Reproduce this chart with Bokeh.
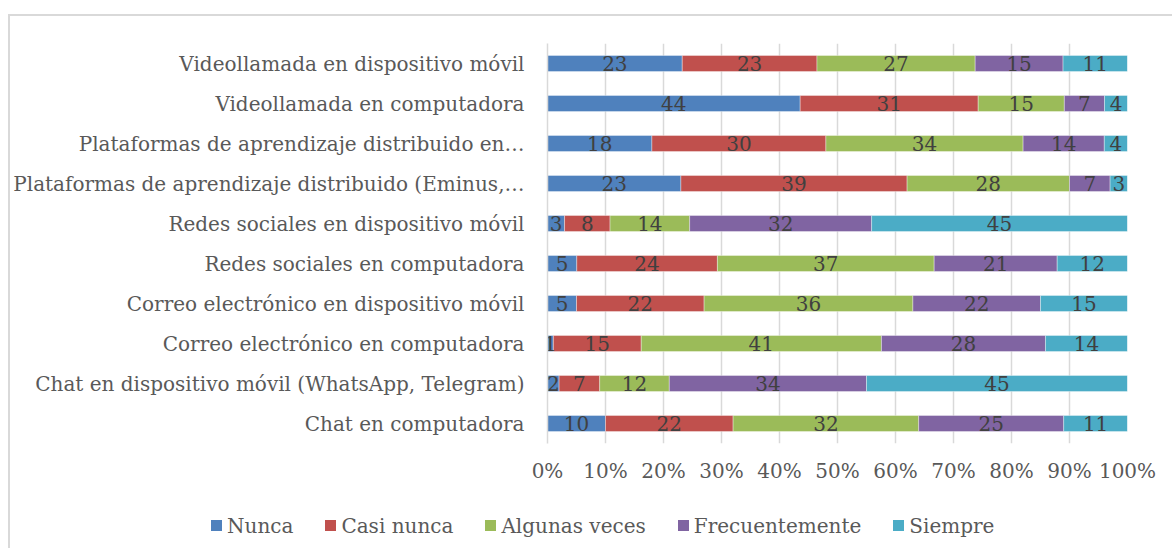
from bokeh.plotting import figure
from bokeh.layouts import column
from bokeh.models import ColumnDataSource, NumeralTickFormatter, FixedTicker, Range1d, FactorRange, Div
from bokeh.core.properties import value
from bokeh.embed import file_html
from bokeh.resources import INLINE

# Categories, top to bottom as shown in the chart
categories = [
    "Videollamada en dispositivo móvil",
    "Videollamada en computadora",
    "Plataformas de aprendizaje distribuido en…",
    "Plataformas de aprendizaje distribuido (Eminus,…",
    "Redes sociales en dispositivo móvil",
    "Redes sociales en computadora",
    "Correo electrónico en dispositivo móvil",
    "Correo electrónico en computadora",
    "Chat en dispositivo móvil (WhatsApp, Telegram)",
    "Chat en computadora",
]
series_names = ["Nunca", "Casi nunca", "Algunas veces", "Frecuentemente", "Siempre"]
nunca = [23, 44, 18, 23, 3, 5, 5, 1, 2, 10]
casi_nunca = [23, 31, 30, 39, 8, 24, 22, 15, 7, 22]
algunas_veces = [27, 15, 34, 28, 14, 37, 36, 41, 12, 32]
frecuentemente = [15, 7, 14, 7, 32, 21, 22, 28, 34, 25]
siempre = [11, 4, 4, 3, 45, 12, 15, 14, 45, 11]
colors = ["#4F81BD", "#C0504D", "#9BBB59", "#8064A2", "#4BACC6"]
x_ticks = [0, 0.1, 0.2, 0.3, 0.4, 0.5, 0.6, 0.7, 0.8, 0.9, 1.0]

FONT = "DejaVu Serif"
FS = "20px"
series = [nunca, casi_nunca, algunas_veces, frecuentemente, siempre]
totals = [sum(vals) for vals in zip(*series)]

data = {"cat": categories}
for name, vals in zip(series_names, series):
    data[name] = [v / t for v, t in zip(vals, totals)]
source = ColumnDataSource(data)

# label positions (segment centers)
lx, ly, lt = [], [], []
for i, cat in enumerate(categories):
    cum = 0.0
    for name, vals in zip(series_names, series):
        frac = vals[i] / totals[i]
        lx.append(cum + frac / 2)
        ly.append(cat)
        lt.append(str(vals[i]))
        cum += frac
label_src = ColumnDataSource(dict(x=lx, y=ly, t=lt))

p = figure(
    width=1162, height=472,
    y_range=FactorRange(factors=list(reversed(categories))),
    x_range=Range1d(0, 1),
    output_backend="svg", toolbar_location=None,
    min_border_left=535, min_border_right=45, min_border_top=27, min_border_bottom=45,
)
p.outline_line_color = None
p.background_fill_color = "white"
p.border_fill_color = "white"

p.hbar_stack(series_names, y="cat", height=0.4, color=colors, source=source,
             line_color="white", line_width=0.6, line_alpha=0.6)

p.text(x="x", y="y", text="t", source=label_src, text_align="center", text_baseline="middle",
       text_font=value(FONT), text_font_size=FS, text_color="#404040")

# axes
p.xaxis.ticker = FixedTicker(ticks=x_ticks)
p.xaxis.formatter = NumeralTickFormatter(format="0%")
p.xaxis.axis_line_color = None
p.xaxis.major_tick_line_color = None
p.xaxis.minor_tick_line_color = None
p.xaxis.major_label_standoff = 9
p.xaxis.major_label_text_font = FONT
p.xaxis.major_label_text_font_size = FS
p.xaxis.major_label_text_color = "#595959"

p.yaxis.axis_line_color = "#d9d9d9"
p.yaxis.axis_line_width = 1.5
p.yaxis.major_tick_line_color = None
p.yaxis.minor_tick_line_color = None
p.yaxis.major_label_standoff = 17
p.yaxis.major_label_text_font = FONT
p.yaxis.major_label_text_font_size = FS
p.yaxis.major_label_text_color = "#595959"

p.xgrid.grid_line_color = "#d9d9d9"
p.xgrid.grid_line_width = 1.5
p.ygrid.grid_line_color = None

# legend strip below the chart
items_html = "".join(
    f'<span style="display:inline-flex;align-items:center;margin-right:32px">'
    f'<span style="display:inline-block;width:11px;height:11px;background:{c};margin-right:5px"></span>'
    f'{n}</span>'
    for n, c in zip(series_names, colors)
)
legend_div = Div(
    text=(f'<div style="padding-left:201px;padding-top:24px;font-family:\'{FONT}\';'
          f'font-size:{FS};color:#595959;line-height:24px;white-space:nowrap">{items_html}</div>'),
    width=1162, height=60, margin=0,
)

layout = column(p, legend_div, spacing=0,
                styles={"border-top": "2px solid #d9d9d9", "border-left": "2px solid #d9d9d9",
                        "margin-top": "14px", "margin-left": "8px", "background": "white"})

open("out.html", "w").write(file_html(layout, INLINE))
